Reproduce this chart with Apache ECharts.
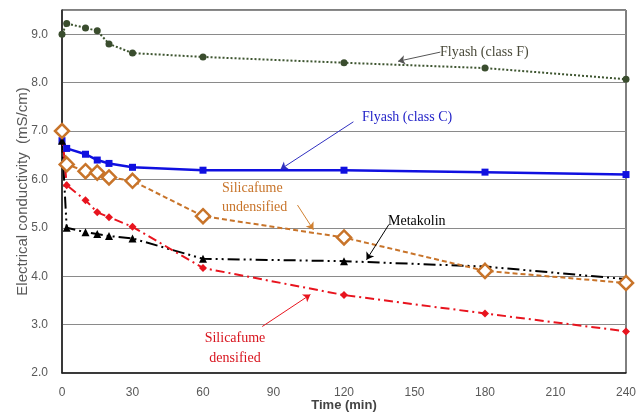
<!DOCTYPE html>
<html>
<head>
<meta charset="utf-8">
<script src="https://cdn.jsdelivr.net/npm/echarts@6/dist/echarts.min.js"></script>
<style>
  html, body { margin: 0; padding: 0; background: #fff; }
  #chart { width: 644px; height: 413px; }
</style>
</head>
<body>
<div id="chart"></div>
<script>
// time points (min)
var times = [0, 2, 10, 15, 20, 30, 60, 120, 180, 240];
var flyashF = [9.0, 9.22, 9.13, 9.07, 8.80, 8.61, 8.53, 8.41, 8.30, 8.07];
var flyashC = [6.8, 6.64, 6.52, 6.40, 6.33, 6.25, 6.19, 6.19, 6.15, 6.10];
var sfUndens = [7.0, 6.31, 6.17, 6.14, 6.04, 5.97, 5.24, 4.80, 4.11, 3.86];
var metakolin = [6.8, 5.0, 4.91, 4.87, 4.83, 4.78, 4.36, 4.31, 4.20, 3.94];
var sfDens = [7.0, 5.88, 5.57, 5.32, 5.22, 5.02, 4.17, 3.61, 3.23, 2.86];

function pairs(vals) {
  var out = [];
  for (var i = 0; i < times.length; i++) out.push([times[i], vals[i]]);
  return out;
}

function arrow(from, to, color) {
  return {
    silent: true,
    symbol: ['none', 'arrow'],
    symbolSize: 7,
    label: { show: false },
    lineStyle: { color: color, type: 'solid', width: 1 },
    data: [[{ coord: from }, { coord: to }]]
  };
}

var serif = 'Liberation Serif';
var myChart = echarts.init(document.getElementById('chart'));
myChart.setOption({
  animation: false,
  grid: {
    left: 62, right: 18, top: 10, bottom: 40,
    outerBoundsMode: 'none', containLabel: false,
    show: true, borderColor: '#000', borderWidth: 1
  },
  xAxis: {
    type: 'value', min: 0, max: 240, interval: 30,
    name: 'Time (min)', nameLocation: 'middle', nameGap: 26, nameMoveOverlap: false,
    nameTextStyle: { fontFamily: 'Liberation Sans', fontWeight: 'bold', fontSize: 13, color: '#444' },
    axisLine: { lineStyle: { color: '#222', width: 1.5 } },
    axisTick: { show: false },
    splitLine: { show: false },
    axisLabel: { color: '#595959', fontSize: 12, margin: 14, fontFamily: 'Liberation Sans' }
  },
  yAxis: {
    type: 'value', min: 2, max: 9.5, interval: 1,
    name: 'Electrical conductivity  (mS/cm)', nameLocation: 'middle', nameGap: 32, nameMoveOverlap: false,
    nameTextStyle: { fontFamily: 'Liberation Sans', fontSize: 15, color: '#595959' },
    axisLine: { show: true, lineStyle: { color: '#222', width: 1.5 } },
    axisTick: { show: false },
    splitLine: { lineStyle: { color: '#8a8a8a', width: 1 } },
    axisLabel: {
      color: '#595959', fontSize: 12, margin: 14, fontFamily: 'Liberation Sans',
      formatter: function (v) { return v > 9.01 ? '' : v.toFixed(1); }
    }
  },
  series: [
    {
      name: 'Flyash (class F)', type: 'line', data: pairs(flyashF),
      symbol: 'circle', symbolSize: 7,
      itemStyle: { color: '#3a4d2e' },
      lineStyle: { color: '#3e5530', type: [2, 2], width: 2 },
      markLine: arrow([161, 8.63], [143, 8.44], '#555')
    },
    {
      name: 'Flyash (class C)', type: 'line', data: pairs(flyashC),
      symbol: 'rect', symbolSize: 7,
      itemStyle: { color: '#1010e0' },
      lineStyle: { color: '#1010e0', width: 2.5 },
      markLine: arrow([124, 7.19], [93, 6.21], '#3030c0')
    },
    {
      name: 'Metakolin', type: 'line', data: pairs(metakolin),
      symbol: 'triangle', symbolSize: 8,
      itemStyle: { color: '#000' },
      lineStyle: { color: '#000', type: [12, 4, 2, 4, 2, 4], width: 2 },
      markLine: arrow([139, 5.06], [129.6, 4.34], '#000')
    },
    {
      name: 'Silicafume densified', type: 'line', data: pairs(sfDens),
      symbol: 'diamond', symbolSize: 8,
      itemStyle: { color: '#e8141e' },
      lineStyle: { color: '#e8141e', type: [9, 4, 2, 4], width: 2 },
      markLine: arrow([85.2, 2.96], [105.7, 3.62], '#e8141e')
    },
    {
      name: 'Silicafume undensified', type: 'line', data: pairs(sfUndens),
      symbol: 'diamond', symbolSize: 14,
      itemStyle: { color: '#fff', borderColor: '#c8742a', borderWidth: 2.5 },
      lineStyle: { color: '#c8742a', type: [5, 3], width: 2 },
      markLine: arrow([100.2, 5.47], [107, 4.96], '#d08030')
    }
  ],
  graphic: [
    { type: 'text', x: 440, y: 52, style: { text: 'Flyash (class F)', font: '14px "' + serif + '"', fill: '#4a4a3a', verticalAlign: 'middle' } },
    { type: 'text', x: 362, y: 117, style: { text: 'Flyash (class C)', font: '14px "' + serif + '"', fill: '#2424c8', verticalAlign: 'middle' } },
    { type: 'text', x: 222, y: 198, style: { text: 'Silicafume\nundensified', font: '14px "' + serif + '"', fill: '#c8742a', lineHeight: 19, verticalAlign: 'middle' } },
    { type: 'text', x: 388, y: 221, style: { text: 'Metakolin', font: '14px "' + serif + '"', fill: '#000', verticalAlign: 'middle' } },
    { type: 'text', x: 235, y: 348, style: { text: 'Silicafume\ndensified', font: '14px "' + serif + '"', fill: '#d8141e', align: 'center', verticalAlign: 'middle', lineHeight: 20 } }
  ]
});
</script>
</body>
</html>
